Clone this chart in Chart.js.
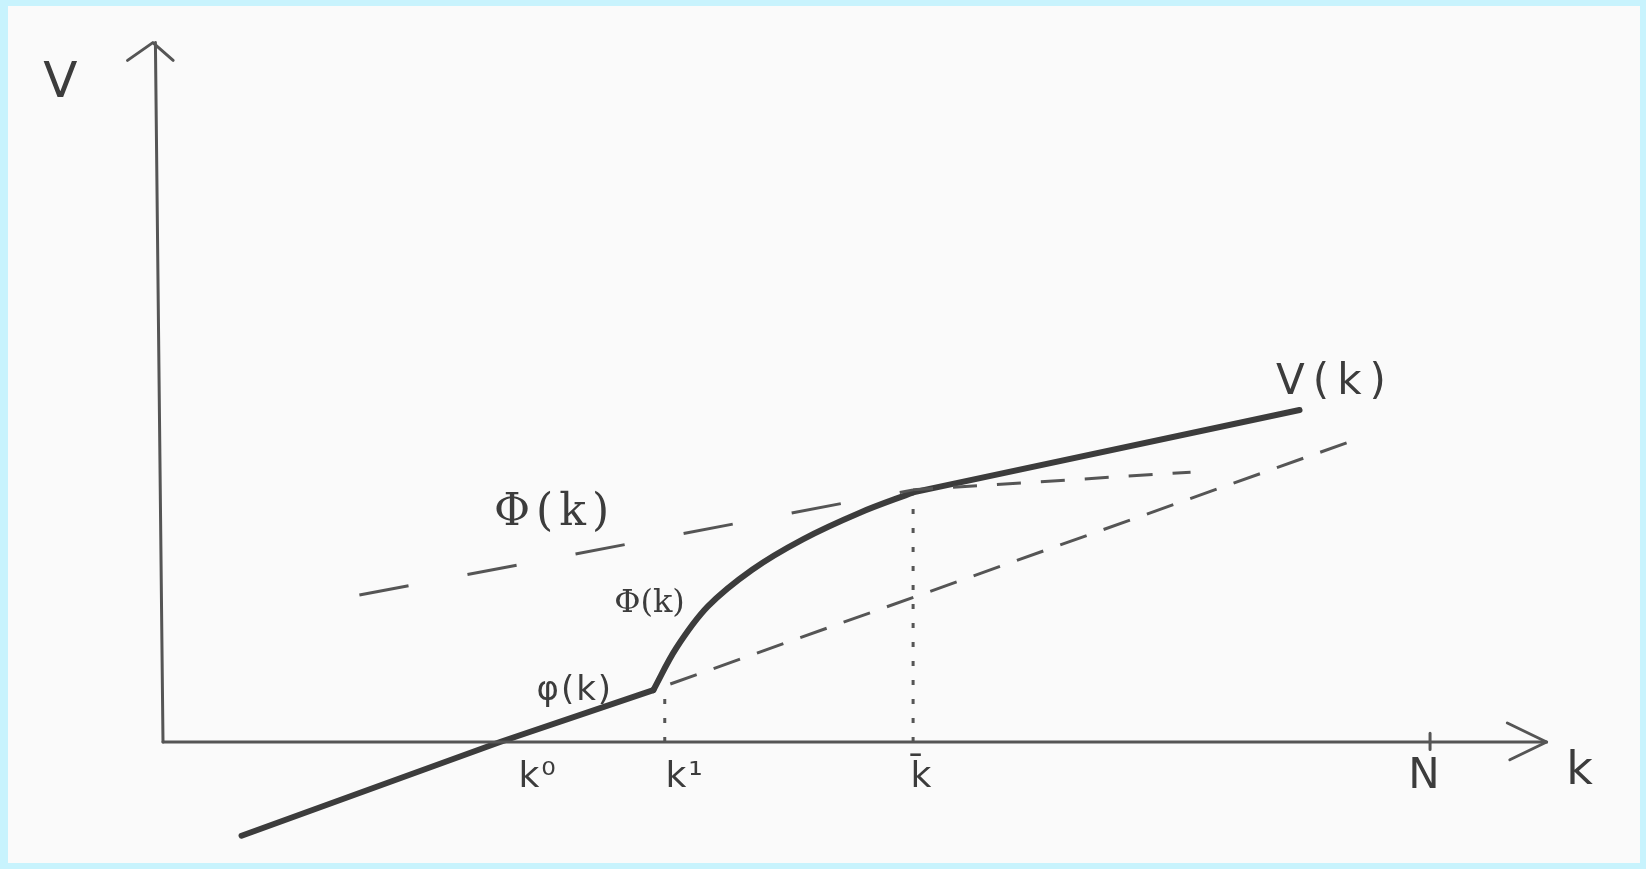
<!DOCTYPE html>
<html>
<head>
<meta charset="utf-8">
<script src="https://cdn.jsdelivr.net/npm/chart.js@4"></script>
<style>
  html, body { margin: 0; padding: 0; background: #c8f3fd; }
  #wrap { position: absolute; left: 8px; top: 6px; width: 1632px; height: 857px; background: #fafafa; }
</style>
</head>
<body>
<div id="wrap"><canvas id="sketch"></canvas></div>
<script>
// V(k): lower straight piece (phi), the curved bridge, the upper straight piece
const vLowK = [0.62, 2.66, 3.87];
const vLowV = [-0.74, 0, 0.41];
const vBridgeK = [3.87, 4.05, 4.30, 4.65, 5.05, 5.50, 5.92];
const vBridgeV = [0.41, 0.74, 1.07, 1.36, 1.60, 1.81, 1.97];
const vHighK = [5.92, 8.97];
const vHighV = [1.97, 2.62];

// upper dashed envelope, and its flatter continuation past k-bar
const envK = [1.55, 5.92];
const envV = [1.16, 1.99];
const envTailK = [5.92, 8.11];
const envTailV = [1.99, 2.13];

// phi(k) extended past k1
const phiExtK = [3.87, 9.45];
const phiExtV = [0.41, 2.40];

// points on the k axis
const kTickNames = ['k\u2070', 'k\u00B9', 'k\u0304', 'N'];
const kTickValues = [2.66, 3.96, 5.92, 10];
const dropHeights = [null, 0.43, 1.97, null];

// axes
const yAxisK = [0, -0.06];
const yAxisV = [0, 5.52];
const xAxisK = [0, 10.92];
const xAxisV = [0, 0];

function pts(ks, vs) {
    return ks.map((k, i) => ({ x: k, y: vs[i] }));
}

const ink = '#3c3c3c';
const soft = '#555555';

const datasets = [
    { data: pts(yAxisK, yAxisV), borderColor: soft, borderWidth: 3 },
    { data: pts(xAxisK, xAxisV), borderColor: soft, borderWidth: 3 },
    // arrow heads and the N tick
    { data: [{ x: -0.28, y: 5.38 }, { x: -0.08, y: 5.52 }, { x: 0.08, y: 5.38 }], borderColor: soft, borderWidth: 3 },
    { data: [{ x: 10.61, y: 0.15 }, { x: 10.92, y: 0 }, { x: 10.63, y: -0.14 }], borderColor: soft, borderWidth: 3 },
    { data: [{ x: kTickValues[3], y: 0.07 }, { x: kTickValues[3], y: -0.06 }], borderColor: soft, borderWidth: 3 },

    { data: pts(envK, envV), borderColor: soft, borderWidth: 3, borderDash: [50, 60], borderCapStyle: 'butt' },
    { data: pts(envTailK, envTailV), borderColor: soft, borderWidth: 3, borderDash: [24, 20], borderDashOffset: -40, borderCapStyle: 'butt' },
    { data: pts(phiExtK, phiExtV), borderColor: soft, borderWidth: 3, borderDash: [28, 18], borderDashOffset: -18, borderCapStyle: 'butt' },

    { data: pts(vLowK, vLowV), borderColor: ink, borderWidth: 6 },
    { data: pts(vBridgeK, vBridgeV), borderColor: ink, borderWidth: 6, tension: 0.35 },
    { data: pts(vHighK, vHighV), borderColor: ink, borderWidth: 6 }
];

// dotted drops from the curve to k1 and k-bar
kTickValues.forEach((k, i) => {
    if (dropHeights[i] === null) return;
    datasets.push({
        data: [{ x: k, y: 0 }, { x: k, y: dropHeights[i] }],
        borderColor: soft, borderWidth: 3, borderDash: [5, 14], borderCapStyle: 'butt'
    });
});

datasets.forEach(d => {
    d.showLine = true;
    d.pointRadius = 0;
    d.fill = false;
    if (!d.borderCapStyle) d.borderCapStyle = 'round';
    d.borderJoinStyle = 'round';
});

// text labels, placed in data units
const labels = [
    { text: 'V', x: -0.81, y: 5.19, size: 50 },
    { text: 'V(k)', x: 9.25, y: 2.83, size: 42, spacing: 8 },
    { text: '\u03A6(k)', x: 3.09, y: 1.80, size: 44, serif: true, spacing: 6 },
    { text: '\u03A6(k)', x: 3.84, y: 1.09, size: 32, serif: true },
    { text: '\u03C6(k)', x: 3.25, y: 0.40, size: 34, spacing: 2 },
    { text: 'k', x: 11.18, y: -0.24, size: 46 }
];
const tickLabelOffsets = [0.30, 0.16, 0.07, -0.04];

const sketchText = {
    id: 'sketchText',
    afterDatasetsDraw(chart) {
        const { ctx, scales } = chart;
        ctx.save();
        ctx.fillStyle = ink;
        ctx.textAlign = 'center';
        ctx.textBaseline = 'middle';
        const put = (t, x, y, size, serif, spacing) => {
            ctx.font = size + 'px ' + (serif ? '"DejaVu Serif"' : '"DejaVu Sans"');
            ctx.letterSpacing = (spacing || 0) + 'px';
            ctx.fillText(t, scales.x.getPixelForValue(x), scales.y.getPixelForValue(y));
        };
        labels.forEach(l => put(l.text, l.x, l.y, l.size, l.serif, l.spacing));
        kTickNames.forEach((name, i) => {
            put(name, kTickValues[i] + tickLabelOffsets[i], -0.28, name === 'N' ? 42 : 36, false, 2);
        });
        ctx.restore();
    }
};

new Chart(document.getElementById('sketch'), {
    type: 'scatter',
    data: { datasets: datasets },
    options: {
        responsive: true,
        maintainAspectRatio: false,
        animation: false,
        layout: { padding: 0 },
        plugins: { legend: { display: false }, tooltip: { enabled: false } },
        scales: {
            x: { type: 'linear', display: false, min: -1.2234, max: 11.657 },
            y: { type: 'linear', display: false, min: -0.955, max: 5.809 }
        }
    },
    plugins: [sketchText]
});
</script>
</body>
</html>
